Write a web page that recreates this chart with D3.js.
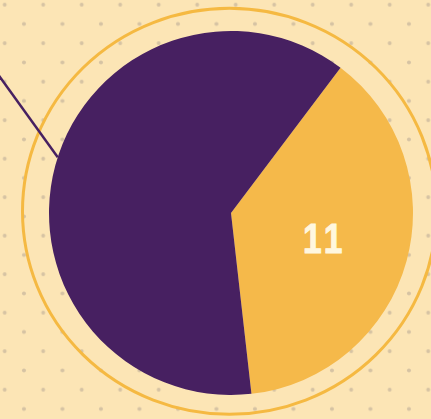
<!DOCTYPE html>
<html>
<head>
<meta charset="utf-8">
<script src="https://cdn.jsdelivr.net/npm/d3@7"></script>
<style>
  html, body { margin: 0; padding: 0; background: #fce5b5; overflow: hidden; }
  svg { display: block; }
</style>
</head>
<body>
<svg id="chart"></svg>
<script>
var labels = ['yes', 'no']
var values = [11, 18]
var colors = ['#f5b94a', '#472061']
var shownLabels = ['11', '']

var w = 431
var h = 419
var cx = 231
var cy = 213
var R = 182

var svg = d3.select('#chart').attr('width', w).attr('height', h)

// dotted background
var defs = svg.append('defs')
var pat = defs.append('pattern')
    .attr('id', 'dots')
    .attr('patternUnits', 'userSpaceOnUse')
    .attr('x', 4.7 - 19.25)
    .attr('y', 4.7)
    .attr('width', 38.5)
    .attr('height', 38.5)
pat.append('circle').attr('cx', 19.25).attr('cy', 0).attr('r', 2).attr('fill', '#d6c3a3')
pat.append('circle').attr('cx', 0).attr('cy', 19.25).attr('r', 2).attr('fill', '#d6c3a3')
pat.append('circle').attr('cx', 38.5).attr('cy', 19.25).attr('r', 2).attr('fill', '#d6c3a3')
pat.append('circle').attr('cx', 19.25).attr('cy', 38.5).attr('r', 2).attr('fill', '#d6c3a3')

svg.append('rect').attr('width', w).attr('height', h).attr('fill', '#fce5b5')
svg.append('rect').attr('width', w).attr('height', h).attr('fill', 'url(#dots)')

// outer ring
svg.append('ellipse')
    .attr('cx', cx - 1.5)
    .attr('cy', cy - 1.7)
    .attr('rx', R + 25)
    .attr('ry', R + 21)
    .attr('fill', 'none')
    .attr('stroke', '#f5b942')
    .attr('stroke-width', 3)

var g = svg.append('g').attr('transform', `translate(${cx},${cy})`)

var startA = 37 * Math.PI / 180
var pie = d3.pie().sort(null).value(d => d.v)
    .startAngle(startA).endAngle(startA + 2 * Math.PI)

var data = labels.map((l, i) => ({ k: l, v: values[i], c: colors[i], t: shownLabels[i] }))
var arcs = pie(data)

var arc = d3.arc().innerRadius(0).outerRadius(R)
var labelArc = d3.arc().innerRadius(95).outerRadius(95)

g.selectAll('path.slice')
    .data(arcs)
    .enter()
    .append('path')
    .attr('class', 'slice')
    .attr('d', arc)
    .attr('fill', d => d.data.c)

// leader line from the big slice
var big = arcs[1]
var mid = (big.startAngle + big.endAngle) / 2 + 0.045
var sx = R * Math.sin(mid)
var sy = -R * Math.cos(mid)
var dir = [-0.585, -0.811]
g.append('line')
    .attr('x1', sx)
    .attr('y1', sy)
    .attr('x2', sx + dir[0] * 200)
    .attr('y2', sy + dir[1] * 200)
    .attr('stroke', '#472061')
    .attr('stroke-width', 2.5)

g.selectAll('text.lab')
    .data(arcs.filter(d => d.data.t))
    .enter()
    .append('text')
    .attr('class', 'lab')
    .attr('transform', d => `translate(${labelArc.centroid(d)}) scale(0.8,1)`)
    .attr('text-anchor', 'middle')
    .attr('dy', '0.36em')
    .attr('dx', 2.5)
    .attr('font-family', 'Liberation Sans, Arial, sans-serif')
    .attr('font-weight', 'bold')
    .attr('font-size', 42)
    .attr('fill', '#fff7df')
    .attr('stroke', '#fff7df')
    .attr('stroke-width', 1)
    .style('letter-spacing', '5px')
    .text(d => d.data.t)
</script>
</body>
</html>
